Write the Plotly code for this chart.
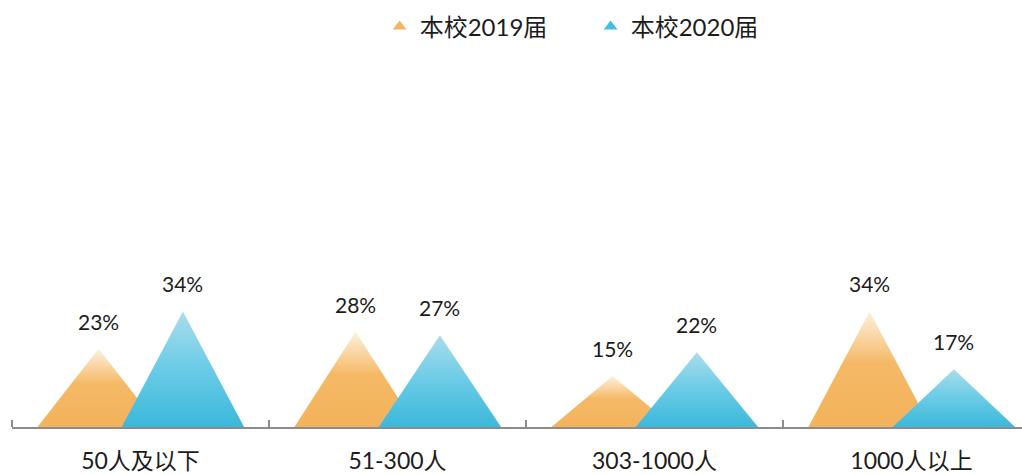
import plotly.graph_objects as go

# Company size groups and share of graduates (%) for each cohort
categories = ["50人及以下", "51-300人", "303-1000人", "1000人以上"]
series_names = ["本校2019届", "本校2020届"]
values_2019 = [23, 28, 15, 34]
values_2020 = [34, 27, 22, 17]

FONT = "Lato, 'Noto Sans CJK SC', sans-serif"
TEXT_COLOR = "#1c1c1c"
AXIS_COLOR = "#8c8c8c"

# per-series styling: offset of the peak from the category centre, base colour and gradient
styles = [
    dict(offset=-0.163, color="#F4B560",
         scale=[[0, "#F3B25B"], [0.55, "#F5B966"], [1, "#FDF1E0"]]),
    dict(offset=0.165, color="#45BEDF",
         scale=[[0, "#3BB8DB"], [0.5, "#6ACBE6"], [1, "#AADDEC"]]),
]
HALF_WIDTH = 0.238

PLOT_TOP, PLOT_BOTTOM = 20, 48
PLOT_H = 475 - PLOT_TOP - PLOT_BOTTOM
PX_PER_PCT = 3.4

fig = go.Figure()
annotations = []

for name, vals, st in zip(series_names, [values_2019, values_2020], styles):
    for i, v in enumerate(vals):
        cx = i + st["offset"]
        fig.add_trace(go.Scatter(
            x=[cx - HALF_WIDTH, cx, cx + HALF_WIDTH, cx - HALF_WIDTH],
            y=[0, v, 0, 0],
            mode="lines",
            line=dict(width=0),
            fill="toself",
            fillgradient=dict(type="vertical", start=0, stop=v, colorscale=st["scale"]),
            showlegend=False,
            hoverinfo="skip",
        ))
        annotations.append(dict(
            x=cx, y=v, text=f"{v}%", showarrow=False,
            xanchor="center", yanchor="bottom", yshift=13,
            font=dict(family=FONT, size=21, color=TEXT_COLOR),
        ))
    # legend entry drawn as a triangle marker
    fig.add_trace(go.Scatter(
        x=[None], y=[None], mode="markers", name=name,
        marker=dict(symbol="triangle-up", size=13, color=st["color"]),
    ))

fig.update_layout(
    width=1022, height=475,
    margin=dict(l=12, r=0, t=PLOT_TOP, b=PLOT_BOTTOM, autoexpand=False),
    paper_bgcolor="white", plot_bgcolor="white",
    font=dict(family=FONT, color=TEXT_COLOR),
    annotations=annotations,
    showlegend=True,
    legend=dict(
        orientation="h", x=0.364, xanchor="left",
        y=(PLOT_H + PLOT_TOP - 27) / PLOT_H, yanchor="middle",
        font=dict(family=FONT, size=24, color=TEXT_COLOR),
        entrywidth=166, itemsizing="constant",
    ),
    xaxis=dict(
        range=[-0.5, -0.5 + 1010 / 257],
        tickmode="array", tickvals=list(range(len(categories))), ticktext=categories,
        ticks="", showgrid=False, zeroline=False,
        showline=True, linecolor=AXIS_COLOR, linewidth=2,
        tickfont=dict(family=FONT, size=23, color=TEXT_COLOR),
        ticklabelstandoff=12,
        minor=dict(tickmode="array", tickvals=[i - 0.5 for i in range(len(categories) + 1)],
                   ticks="inside", ticklen=7, tickwidth=1.5, tickcolor=AXIS_COLOR, showgrid=False),
        fixedrange=True,
    ),
    yaxis=dict(range=[0, PLOT_H / PX_PER_PCT], visible=False, fixedrange=True),
)

fig.write_html("out.html")
